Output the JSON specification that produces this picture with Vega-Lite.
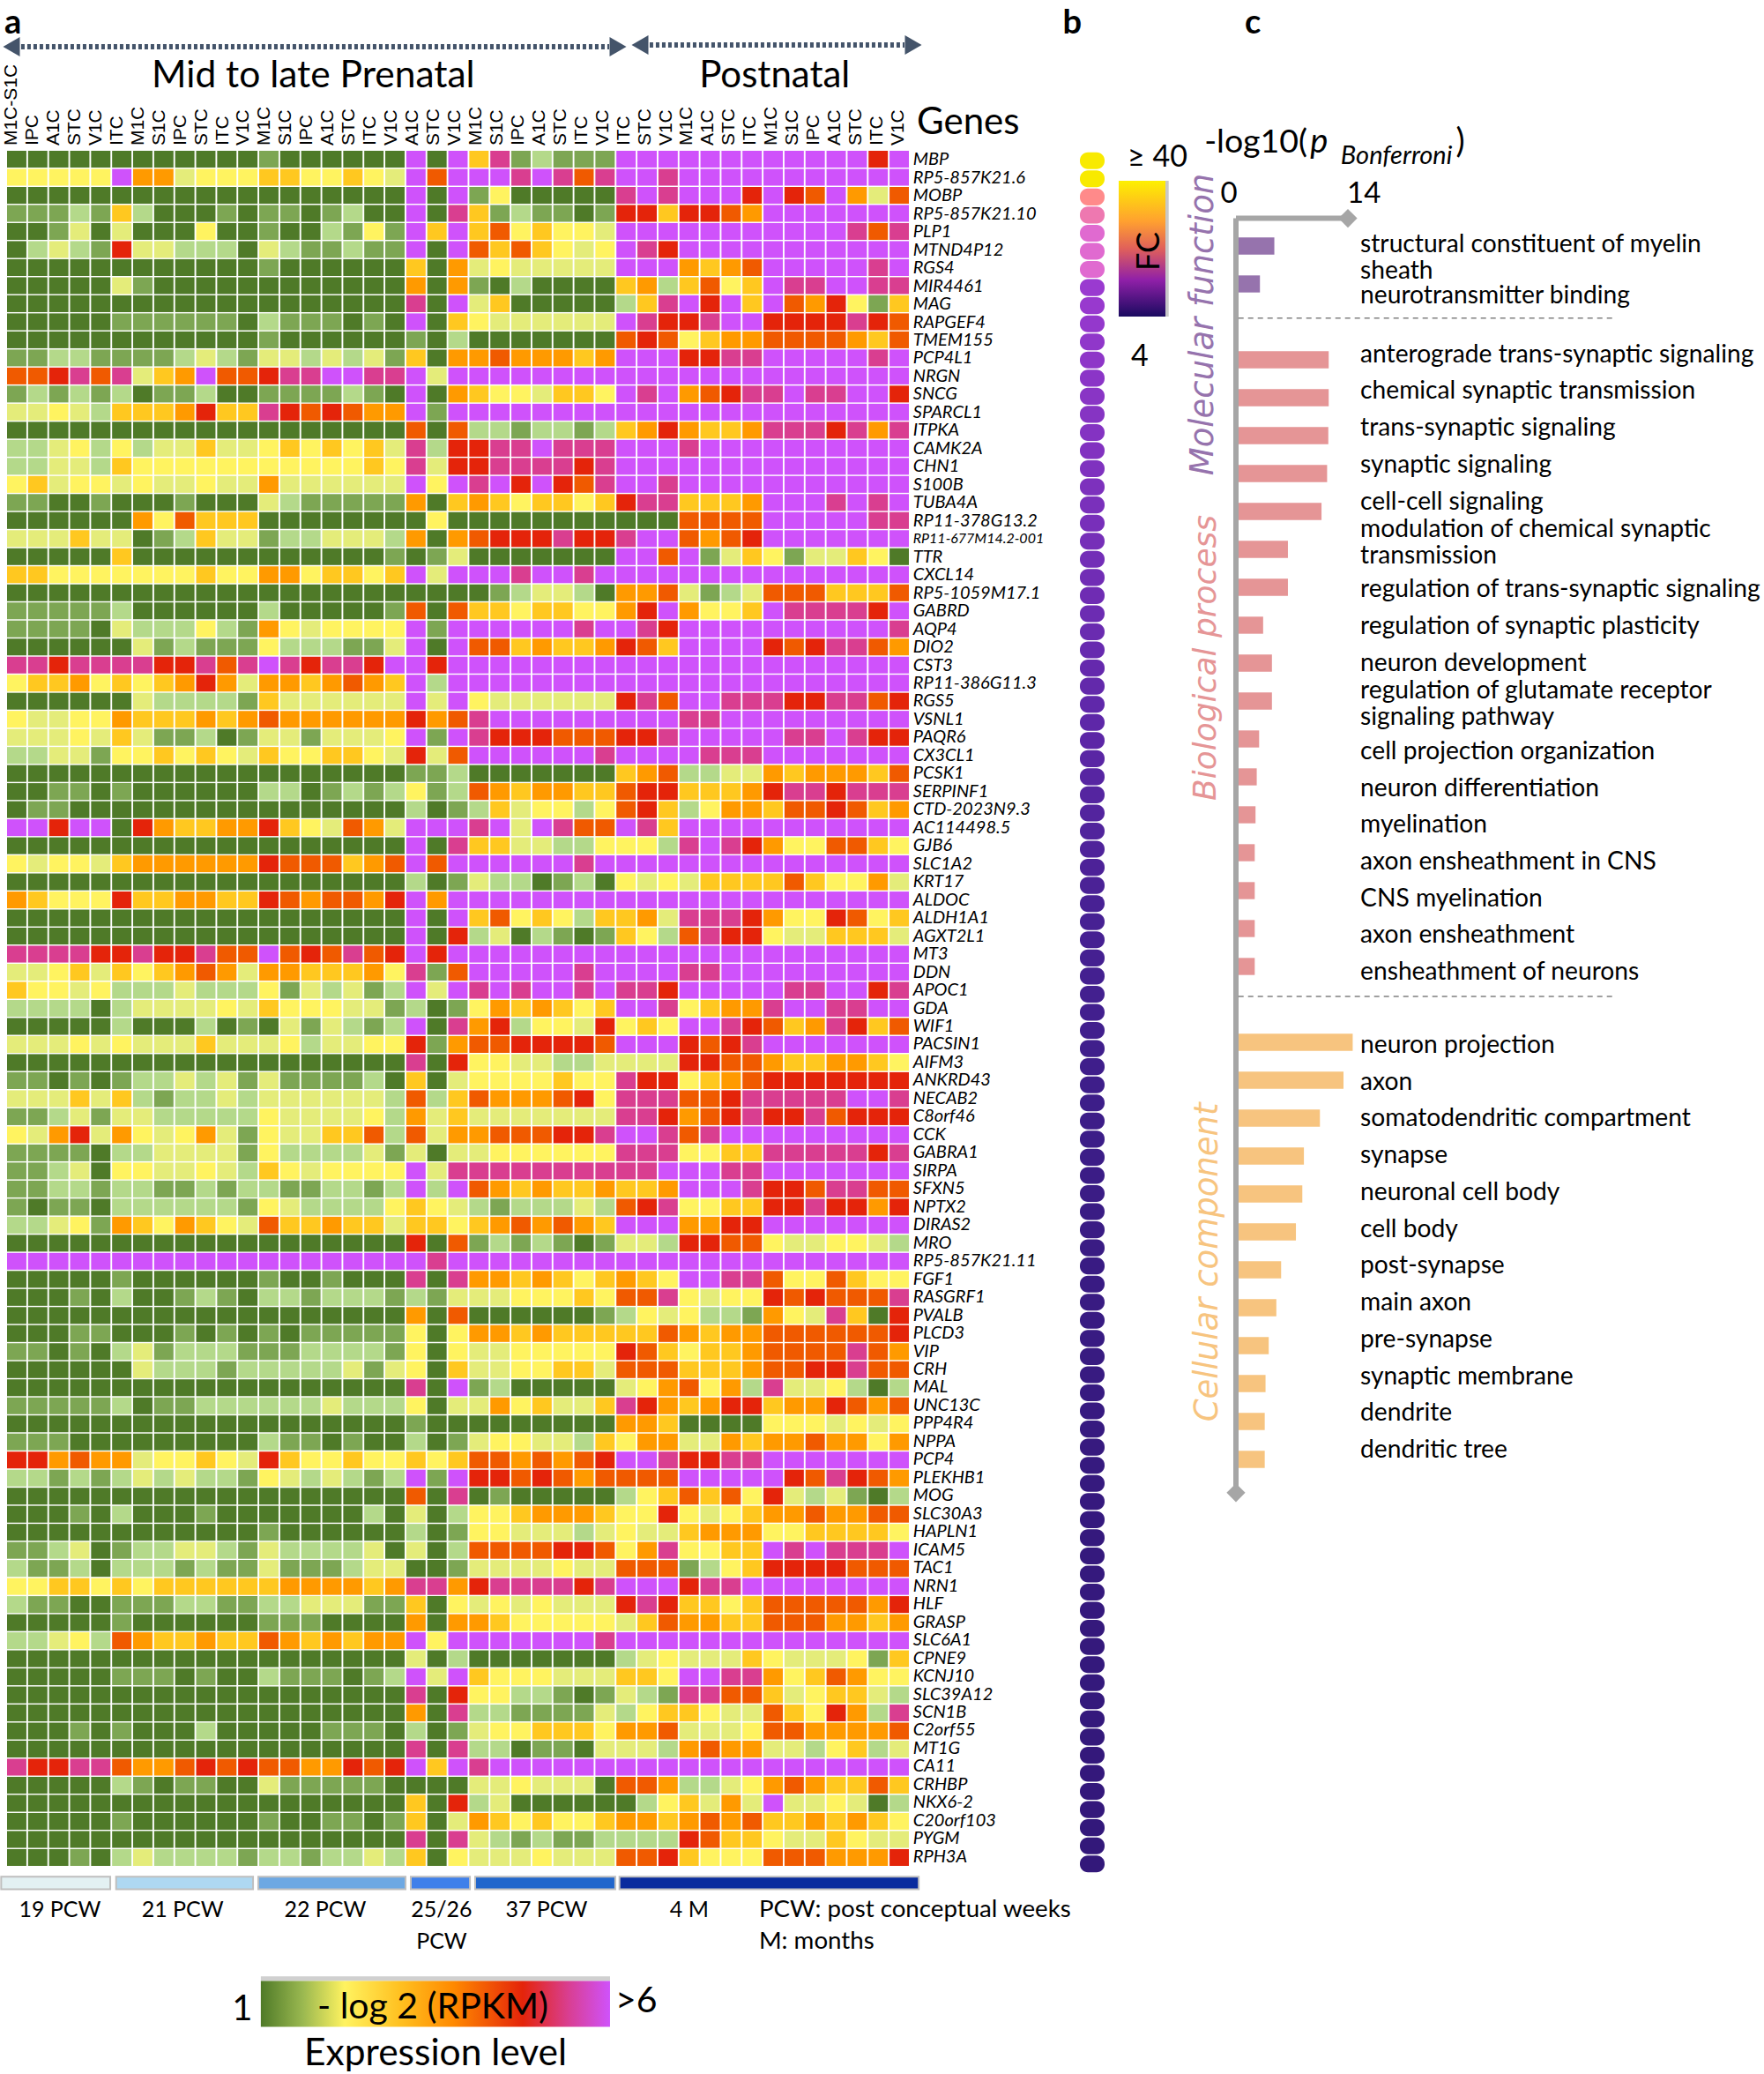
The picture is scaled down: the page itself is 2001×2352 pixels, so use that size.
{"$schema":"https://vega.github.io/schema/vega-lite/v6.json","width":2001,"height":2352,"padding":0,"autosize":{"type":"fit","contains":"padding"},"background":"#ffffff","config":{"view":{"stroke":null},"axis":{"disable":true},"legend":{"disable":true},"text":{"font":"Lato","fontSize":28.2,"color":"#000000","baseline":"middle"}},
"data":{"values":[{}]},
"datasets":{"genes":[
{"g":"MBP","fc":40,"v":[0,0,0,0,0,0,0,0,0,0,0,0,1,0,0,0,0,0,0,10,0,10,5,9,1,2,1,1,1,10,10,10,10,10,10,10,10,10,10,10,10,8,10]},
{"g":"RP5-857K21.6","fc":40,"v":[4,4,4,4,4,10,6,6,3,4,4,4,5,5,4,4,5,4,3,10,7,10,10,10,9,10,9,7,9,10,10,9,10,10,10,10,10,10,10,10,10,10,10]},
{"g":"MOBP","fc":24,"v":[0,0,0,0,0,0,0,0,0,0,0,0,0,0,0,0,0,0,0,10,0,10,1,4,0,0,0,0,0,9,10,9,10,10,10,8,10,8,7,10,6,3,7]},
{"g":"RP5-857K21.10","fc":21,"v":[1,1,1,2,1,5,2,0,0,0,1,0,1,1,0,1,2,0,0,10,0,9,5,1,2,1,1,0,1,8,8,5,8,8,7,6,10,10,10,10,10,10,10]},
{"g":"PLP1","fc":19,"v":[0,0,1,3,0,3,0,0,0,4,0,0,1,0,0,2,1,4,1,10,5,10,5,7,4,5,4,4,3,10,10,10,10,10,10,10,10,10,10,10,9,7,9]},
{"g":"MTND4P12","fc":19,"v":[0,2,3,2,1,8,3,3,2,2,2,0,3,2,1,1,2,1,1,10,0,10,7,5,7,5,4,3,4,10,9,8,10,10,10,10,10,10,10,10,10,10,10]},
{"g":"RGS4","fc":19,"v":[0,0,0,0,0,0,0,0,0,0,0,0,1,0,0,0,0,0,0,5,0,6,3,4,3,3,3,3,3,10,10,10,6,5,6,7,10,10,10,10,10,9,10]},
{"g":"MIR4461","fc":14,"v":[0,0,0,0,0,3,1,0,0,0,0,0,0,0,0,0,0,0,0,6,0,6,1,0,2,0,0,0,0,5,6,2,5,7,4,5,10,9,9,10,10,9,9]},
{"g":"MAG","fc":13.8,"v":[0,0,0,0,0,0,0,0,0,0,0,0,0,0,0,0,0,0,0,9,0,10,3,5,0,0,0,0,0,2,5,9,10,8,10,5,10,7,6,8,4,1,5]},
{"g":"RAPGEF4","fc":13.5,"v":[0,0,0,0,0,1,1,1,1,1,1,0,2,1,1,1,0,1,0,10,0,5,4,3,3,3,3,3,3,10,9,8,8,9,10,10,8,8,8,8,9,8,7]},
{"g":"TMEM155","fc":13.2,"v":[0,0,0,0,0,0,0,0,0,0,0,0,1,0,0,0,0,0,0,1,0,2,0,0,0,0,0,0,0,7,8,7,4,5,6,6,7,7,7,7,6,5,7]},
{"g":"PCP4L1","fc":13,"v":[1,1,2,2,1,1,1,1,2,3,2,1,3,3,2,3,2,3,1,5,0,6,6,7,6,6,6,5,6,10,10,10,8,8,9,9,10,10,10,10,10,9,10]},
{"g":"NRGN","fc":12.8,"v":[7,7,8,9,7,9,3,5,6,10,7,7,8,9,9,10,10,9,9,10,3,10,10,10,10,10,10,10,10,10,10,10,10,10,10,10,10,10,10,10,10,10,10]},
{"g":"SNCG","fc":12.6,"v":[1,2,1,2,1,2,0,1,1,2,0,0,1,1,1,1,2,1,0,10,0,6,5,4,4,3,5,5,4,10,9,10,6,7,8,9,9,10,9,9,10,10,8]},
{"g":"SPARCL1","fc":12.4,"v":[3,3,4,3,2,5,5,5,6,8,5,5,9,8,7,8,7,6,6,10,1,10,10,10,10,10,10,10,10,10,10,10,10,10,10,10,10,10,10,10,10,10,10]},
{"g":"ITPKA","fc":12.2,"v":[0,0,0,0,0,0,0,0,0,0,0,0,0,0,0,0,0,0,0,7,0,7,2,2,1,2,2,1,2,5,6,8,6,5,5,6,9,9,9,8,9,6,9]},
{"g":"CAMK2A","fc":12,"v":[2,2,3,4,2,4,2,3,3,5,3,3,4,5,4,5,4,5,3,9,2,8,8,9,9,10,9,9,9,10,10,10,9,10,10,10,10,10,10,10,10,10,10]},
{"g":"CHN1","fc":11.8,"v":[2,2,3,3,2,5,4,4,4,4,4,4,4,4,4,4,4,5,4,9,3,8,8,9,9,9,9,8,9,10,10,10,10,10,10,10,10,10,10,10,10,10,10]},
{"g":"S100B","fc":11.6,"v":[4,5,3,4,4,3,4,3,3,4,3,3,6,3,3,3,3,3,3,10,4,10,9,10,8,10,8,7,9,10,10,9,10,10,10,10,10,10,10,10,10,10,10]},
{"g":"TUBA4A","fc":11.4,"v":[1,1,0,0,1,0,0,0,1,0,0,0,3,2,1,1,1,1,1,6,0,5,6,5,4,5,5,4,5,8,9,9,5,5,5,6,10,10,10,9,10,9,10]},
{"g":"RP11-378G13.2","fc":11.2,"v":[0,0,0,0,0,0,6,4,7,5,5,5,0,0,0,0,0,0,0,0,4,0,0,0,0,0,0,0,0,0,0,0,7,7,7,7,10,10,10,10,10,9,9]},
{"g":"RP11-677M14.2-001","fc":11,"v":[3,3,3,5,3,3,0,1,2,5,3,3,1,2,2,3,3,3,2,6,0,6,7,8,8,8,9,8,8,9,10,10,7,6,7,8,10,10,10,10,10,10,10]},
{"g":"TTR","fc":10.8,"v":[0,0,0,0,0,5,0,0,0,0,0,0,0,0,0,0,0,0,1,0,1,3,0,0,0,0,0,0,0,10,10,7,10,1,3,5,4,1,3,3,5,4,0]},
{"g":"CXCL14","fc":10.6,"v":[5,5,4,4,4,4,4,4,4,5,4,4,6,6,4,5,5,4,5,10,3,10,10,10,9,10,10,9,10,10,10,10,10,10,10,10,10,10,10,10,10,10,10]},
{"g":"RP5-1059M17.1","fc":10.4,"v":[0,0,0,0,0,0,0,0,0,0,0,0,0,0,0,0,0,0,0,0,0,0,0,1,2,3,3,2,0,6,6,7,3,1,2,3,7,7,7,5,5,5,7]},
{"g":"GABRD","fc":10.2,"v":[1,1,1,1,1,2,0,0,0,0,0,0,2,0,0,0,0,0,1,7,0,7,5,5,4,5,5,4,4,6,8,10,6,4,4,5,10,9,9,9,9,8,10]},
{"g":"AQP4","fc":10,"v":[1,1,1,1,0,3,2,2,2,4,2,1,6,4,3,4,4,4,4,10,1,10,10,10,10,10,10,9,10,10,9,8,10,10,10,10,10,10,10,10,10,10,9]},
{"g":"DIO2","fc":9.8,"v":[0,0,0,0,0,0,3,1,2,1,1,1,4,2,2,2,1,1,3,10,0,10,7,7,5,6,5,5,6,8,7,5,10,10,10,10,8,7,8,9,9,7,6]},
{"g":"CST3","fc":9.6,"v":[9,9,8,9,9,9,9,8,8,9,7,9,10,9,8,9,9,8,10,10,8,10,10,10,10,10,10,10,10,10,10,10,10,10,10,10,10,10,10,10,10,10,10]},
{"g":"RP11-386G11.3","fc":9.4,"v":[4,5,5,6,4,5,4,5,6,8,6,3,6,6,5,6,7,6,5,10,2,10,10,10,10,10,10,10,10,10,10,10,10,10,10,10,10,10,10,10,10,10,10]},
{"g":"RGS5","fc":9.2,"v":[0,0,0,0,0,0,3,2,2,2,2,1,5,3,3,3,3,3,3,10,3,10,4,3,3,3,3,3,3,8,9,7,10,10,9,9,9,8,8,9,9,7,8]},
{"g":"VSNL1","fc":9,"v":[4,3,3,4,4,6,5,5,5,6,5,6,7,6,6,6,6,6,6,8,6,7,9,10,10,10,10,10,10,10,10,10,9,9,10,10,10,10,10,10,10,10,10]},
{"g":"PAQR6","fc":8.8,"v":[3,3,3,4,3,5,3,1,1,2,0,1,3,3,1,3,3,3,4,10,1,10,9,8,8,8,7,7,7,8,8,9,10,10,10,10,10,9,9,10,9,8,8]},
{"g":"CX3CL1","fc":8.6,"v":[2,2,3,3,1,4,4,5,4,5,4,3,5,4,4,5,5,4,3,8,3,7,10,10,10,10,10,10,9,10,10,10,10,9,9,9,10,10,10,10,10,10,10]},
{"g":"PCSK1","fc":8.4,"v":[0,0,0,0,0,0,0,0,0,0,0,0,0,0,0,0,0,0,0,1,1,2,0,0,0,0,0,0,0,5,6,7,2,2,3,3,6,5,6,6,6,5,7]},
{"g":"SERPINF1","fc":8.2,"v":[0,0,1,1,0,1,0,0,0,0,0,0,2,2,0,1,2,1,2,4,1,2,7,6,5,6,6,5,5,7,8,8,5,5,5,6,8,9,9,8,9,9,9]},
{"g":"CTD-2023N9.3","fc":8,"v":[0,1,1,0,0,0,0,0,0,0,0,0,0,0,0,0,0,0,0,2,0,1,2,5,3,4,4,2,4,7,8,5,2,4,6,6,5,7,7,8,7,5,6]},
{"g":"AC114498.5","fc":7.8,"v":[10,10,8,10,10,0,8,6,5,5,6,6,8,5,4,3,7,6,3,10,10,10,9,10,3,10,9,7,7,10,9,5,10,10,10,10,10,10,10,10,10,10,10]},
{"g":"GJB6","fc":7.6,"v":[0,0,0,0,0,0,0,0,0,0,0,0,0,0,0,0,0,0,0,10,0,9,5,5,3,3,2,2,4,4,4,2,9,10,9,8,6,4,4,7,7,5,4]},
{"g":"SLC1A2","fc":7.4,"v":[4,3,4,4,3,5,6,6,6,6,6,6,8,7,7,7,5,6,7,10,7,10,10,10,10,10,10,9,10,10,10,10,10,10,10,10,10,10,10,10,10,10,10]},
{"g":"KRT17","fc":7.2,"v":[0,0,0,0,0,0,0,0,0,0,0,0,0,0,0,0,0,0,0,2,0,1,3,2,2,0,1,2,0,4,3,4,3,5,5,5,5,7,5,4,4,6,3]},
{"g":"ALDOC","fc":7,"v":[6,5,4,4,4,8,5,5,6,6,5,5,8,7,6,7,7,6,8,10,6,10,10,10,10,10,10,10,10,10,10,10,10,10,10,10,10,10,10,10,10,10,10]},
{"g":"ALDH1A1","fc":6.9,"v":[0,0,0,0,0,0,0,0,0,0,0,0,0,0,0,0,0,0,0,10,0,10,5,7,4,5,4,2,5,5,6,3,9,9,9,8,6,4,4,8,7,4,5]},
{"g":"AGXT2L1","fc":6.8,"v":[0,0,0,0,0,0,0,0,0,0,0,0,0,0,0,0,0,0,0,10,0,8,2,3,0,2,1,0,1,5,4,2,7,9,8,8,4,3,3,5,5,5,3]},
{"g":"MT3","fc":6.7,"v":[9,9,9,9,8,8,9,8,8,9,7,7,10,7,8,7,9,7,8,10,8,10,10,10,10,10,10,10,10,10,10,10,10,10,10,10,10,10,10,10,10,10,10]},
{"g":"DDN","fc":6.6,"v":[3,3,4,5,3,5,4,5,6,7,6,3,6,6,5,5,5,6,4,9,1,7,10,10,10,10,10,9,10,10,10,10,9,9,10,10,10,10,10,10,10,10,10]},
{"g":"APOC1","fc":6.5,"v":[5,4,4,3,4,2,2,2,3,2,2,2,4,1,3,2,3,1,2,10,3,10,9,10,9,10,10,9,10,9,9,8,10,10,10,10,10,9,9,10,10,8,9]},
{"g":"GDA","fc":6.4,"v":[2,2,2,2,0,2,3,3,3,3,4,3,5,4,4,4,3,3,1,2,0,1,4,6,5,6,5,4,5,10,10,9,4,5,6,6,9,10,10,9,9,10,10]},
{"g":"WIF1","fc":6.3,"v":[0,0,0,0,0,2,0,0,0,2,0,1,0,3,1,3,2,1,2,10,0,9,6,8,2,4,4,3,8,4,5,4,10,10,9,8,7,5,6,9,8,5,7]},
{"g":"PACSIN1","fc":6.2,"v":[3,3,3,4,3,4,3,3,3,5,3,3,3,4,2,3,3,4,4,8,1,6,7,7,8,8,8,8,7,10,10,10,8,7,8,9,10,10,10,10,10,10,10]},
{"g":"AIFM3","fc":6.1,"v":[0,0,0,0,0,0,0,0,0,0,0,0,0,0,0,0,0,0,0,9,0,8,4,4,3,3,2,2,3,3,3,3,8,8,7,7,6,5,5,6,6,5,4]},
{"g":"ANKRD43","fc":6,"v":[1,1,0,1,0,1,2,2,3,2,3,1,3,1,1,1,1,2,0,5,0,3,4,4,4,4,5,4,4,9,8,8,4,5,6,7,8,8,8,8,8,8,8]},
{"g":"NECAB2","fc":5.9,"v":[3,3,3,5,3,5,2,1,2,2,3,2,3,3,3,3,3,3,2,7,2,5,7,6,6,6,7,8,4,9,9,9,7,7,8,9,9,9,9,9,10,10,9]},
{"g":"C8orf46","fc":5.8,"v":[1,1,2,3,1,3,3,2,2,2,2,2,4,3,3,3,3,4,2,6,3,5,3,3,3,3,3,3,3,9,9,8,6,7,8,9,8,8,9,7,8,8,8]},
{"g":"CCK","fc":5.7,"v":[4,3,6,8,3,6,4,3,4,6,3,1,4,3,3,5,5,7,2,7,3,6,6,7,7,7,8,8,9,10,10,9,7,9,10,10,10,10,10,10,10,10,10]},
{"g":"GABRA1","fc":5.6,"v":[1,1,1,1,0,2,2,3,3,3,3,1,4,2,2,2,2,3,1,3,0,3,3,4,4,4,4,4,4,9,9,9,4,4,5,5,9,9,9,9,9,8,9]},
{"g":"SIRPA","fc":5.5,"v":[1,1,2,3,0,4,4,3,3,4,3,2,5,4,3,4,4,4,4,10,3,9,9,9,9,9,9,9,9,9,9,10,10,10,9,9,10,10,10,10,10,10,10]},
{"g":"SFXN5","fc":5.4,"v":[1,1,2,2,1,2,2,1,1,2,1,2,2,1,1,2,2,1,2,10,2,10,7,6,5,6,5,5,6,5,5,6,10,10,10,9,8,8,7,9,9,7,7]},
{"g":"NPTX2","fc":5.3,"v":[1,0,1,1,0,2,2,2,2,2,2,1,4,3,2,2,2,2,4,5,4,3,2,1,2,2,2,3,2,7,8,9,4,4,5,5,8,8,9,8,8,6,8]},
{"g":"DIRAS2","fc":5.25,"v":[2,2,3,4,1,6,5,4,6,5,4,3,7,5,5,6,5,5,3,5,5,4,5,6,7,6,7,6,5,10,10,10,6,6,8,8,10,10,10,10,10,10,10]},
{"g":"MRO","fc":5.2,"v":[0,0,0,0,0,0,0,0,0,0,0,0,0,0,0,0,0,0,0,8,0,7,1,2,1,2,1,0,1,3,3,2,8,8,7,7,4,3,3,4,4,3,2]},
{"g":"RP5-857K21.11","fc":5.15,"v":[10,10,10,10,10,10,10,10,10,10,10,10,10,10,10,10,10,10,10,10,9,10,10,10,10,10,10,10,10,10,10,10,10,10,10,10,10,10,10,10,10,10,10]},
{"g":"FGF1","fc":5.1,"v":[0,0,0,0,0,1,0,0,0,0,0,0,1,0,0,1,0,0,0,9,0,9,6,6,5,6,5,4,5,6,5,4,10,10,9,9,7,4,4,7,5,4,4]},
{"g":"RASGRF1","fc":5.05,"v":[0,0,0,1,0,2,0,0,1,2,1,0,2,2,1,2,2,2,1,2,1,3,3,3,4,4,4,5,4,7,7,9,4,3,4,4,8,7,8,7,7,7,9]},
{"g":"PVALB","fc":5,"v":[0,0,0,0,0,0,0,0,0,0,0,0,0,0,0,0,0,0,0,6,0,7,0,0,0,0,0,0,1,2,4,3,4,2,2,1,6,4,3,9,5,0,8]},
{"g":"PLCD3","fc":4.95,"v":[0,0,0,1,1,0,0,0,1,0,1,0,1,0,1,1,1,1,1,4,0,4,6,6,5,6,5,5,5,5,5,7,6,5,6,6,7,7,7,7,7,7,8]},
{"g":"VIP","fc":4.9,"v":[1,1,0,1,0,2,3,1,2,2,2,1,1,1,2,2,2,2,1,4,0,4,3,3,4,4,4,4,4,8,7,5,4,5,5,6,7,7,7,7,9,7,6]},
{"g":"CRH","fc":4.85,"v":[0,0,0,0,0,0,3,2,2,2,1,2,2,2,2,2,3,1,3,4,0,5,3,3,4,4,5,5,3,7,7,7,5,5,5,6,7,7,8,8,9,7,7]},
{"g":"MAL","fc":4.8,"v":[0,0,0,0,0,0,0,0,0,0,0,0,0,0,0,0,0,0,0,9,0,10,1,2,0,0,0,0,0,3,4,6,7,4,6,2,9,3,3,4,2,0,2]},
{"g":"UNC13C","fc":4.75,"v":[1,1,1,1,1,2,0,1,1,2,2,2,2,2,2,3,2,2,2,4,0,3,3,6,4,5,3,3,5,9,8,6,5,6,8,8,5,6,6,8,7,6,7]},
{"g":"PPP4R4","fc":4.7,"v":[0,0,0,0,0,0,0,0,0,0,0,0,0,0,0,0,0,0,0,1,0,0,0,0,0,0,0,0,0,6,6,5,0,0,0,0,4,4,4,3,4,3,4]},
{"g":"NPPA","fc":4.65,"v":[1,1,1,0,0,0,0,0,0,0,0,0,2,1,1,0,1,0,0,2,0,1,3,4,4,3,3,2,5,4,6,6,3,3,6,5,6,6,7,6,6,4,6]},
{"g":"PCP4","fc":4.6,"v":[8,8,6,7,6,6,3,4,4,5,4,3,8,5,4,4,5,4,4,5,4,5,7,7,6,7,6,7,8,10,10,9,8,8,9,9,10,10,10,10,10,10,10]},
{"g":"PLEKHB1","fc":4.55,"v":[2,2,1,2,1,2,3,2,3,2,2,1,4,3,2,3,2,1,2,10,1,10,8,8,7,8,7,6,7,7,7,7,10,10,10,10,10,8,7,9,8,7,6]},
{"g":"MOG","fc":4.5,"v":[0,0,0,0,0,0,0,0,0,0,0,0,0,0,0,0,0,0,0,7,0,9,0,1,0,0,0,0,0,2,4,5,7,5,7,4,8,3,2,3,1,0,2]},
{"g":"SLC30A3","fc":4.45,"v":[0,0,0,1,0,2,0,0,0,1,0,0,0,0,0,0,0,2,0,3,0,2,4,4,5,6,6,6,5,4,4,8,4,3,4,5,6,6,7,6,6,7,7]},
{"g":"HAPLN1","fc":4.4,"v":[0,0,0,0,0,0,0,0,0,0,0,0,1,0,0,0,0,0,0,2,0,1,4,4,3,3,3,2,3,4,3,3,5,6,6,6,4,4,5,5,5,5,4]},
{"g":"ICAM5","fc":4.38,"v":[1,1,2,3,0,1,2,2,3,3,2,1,3,2,2,2,2,3,0,3,0,2,7,7,7,7,8,8,7,4,6,9,4,4,5,5,10,9,10,9,9,9,10]},
{"g":"TAC1","fc":4.36,"v":[2,1,1,2,0,2,2,2,1,2,1,1,3,1,1,1,2,3,3,0,0,1,3,3,3,3,4,3,3,7,7,7,1,2,4,5,8,8,8,8,7,7,7]},
{"g":"NRN1","fc":4.34,"v":[4,4,5,5,4,5,4,5,5,5,5,5,5,6,6,6,6,5,6,9,9,6,8,9,9,9,9,8,9,10,10,10,8,9,9,10,10,10,10,10,10,10,10]},
{"g":"HLF","fc":4.32,"v":[2,1,1,0,0,1,1,1,2,2,1,1,2,2,3,3,3,1,1,5,0,4,3,4,3,4,3,3,3,8,9,8,5,5,4,5,7,7,7,7,7,6,8]},
{"g":"GRASP","fc":4.3,"v":[0,0,0,0,0,1,0,0,0,0,0,0,1,1,1,0,0,0,0,6,0,6,6,5,4,4,4,4,4,3,5,7,6,6,5,5,7,7,7,6,6,5,6]},
{"g":"SLC6A1","fc":4.28,"v":[2,2,3,4,2,7,6,5,5,6,5,5,7,6,5,6,5,6,6,10,4,10,10,10,10,10,10,10,9,10,10,10,10,10,10,10,10,10,10,10,10,10,10]},
{"g":"CPNE9","fc":4.26,"v":[0,0,0,0,0,0,0,0,0,0,0,0,0,0,0,0,0,0,0,3,0,2,0,0,0,0,0,0,0,2,3,4,3,3,3,5,4,3,3,3,4,1,5]},
{"g":"KCNJ10","fc":4.24,"v":[0,0,0,0,0,1,1,1,0,1,0,0,2,1,1,1,0,1,2,10,3,10,5,4,4,4,3,3,3,5,5,4,10,10,9,9,6,4,5,7,6,4,4]},
{"g":"SLC39A12","fc":4.22,"v":[0,0,0,0,0,0,0,0,0,0,0,0,0,0,0,0,0,0,0,9,0,8,4,4,2,2,1,0,1,3,2,1,9,9,7,7,5,3,4,5,5,3,2]},
{"g":"SCN1B","fc":4.2,"v":[0,0,0,0,0,0,0,0,0,0,0,0,0,0,0,0,0,0,0,6,0,9,2,2,1,1,1,1,3,2,4,5,5,4,3,3,7,5,4,8,6,2,9]},
{"g":"C2orf55","fc":4.18,"v":[0,0,0,1,0,1,0,0,0,2,0,0,0,0,0,1,1,1,0,2,0,1,3,4,4,5,5,5,4,6,6,7,3,3,3,4,7,7,6,6,6,6,7]},
{"g":"MT1G","fc":4.16,"v":[0,0,0,0,0,0,0,0,0,0,0,0,0,0,0,0,0,0,0,9,0,9,2,2,0,1,1,0,3,3,3,2,6,7,6,6,3,3,2,4,5,2,3]},
{"g":"CA11","fc":4.14,"v":[9,8,8,9,9,7,6,6,7,8,7,8,7,7,6,6,8,7,8,10,5,10,9,10,10,10,10,10,10,10,10,10,10,10,10,10,10,10,10,10,10,10,10]},
{"g":"CRHBP","fc":4.12,"v":[0,0,0,0,0,2,1,0,1,1,0,0,3,1,1,1,1,1,0,0,0,0,3,3,4,3,3,3,0,7,7,6,2,2,3,4,6,7,6,5,5,7,5]},
{"g":"NKX6-2","fc":4.1,"v":[0,0,0,0,0,0,0,0,0,0,0,0,0,0,0,0,0,0,0,5,0,8,2,3,0,0,0,0,0,0,2,4,5,3,6,3,10,3,3,4,3,0,2]},
{"g":"C20orf103","fc":4.08,"v":[0,0,0,0,0,1,0,0,0,0,0,0,1,0,0,1,1,0,1,5,0,3,6,5,4,5,4,4,5,6,6,5,6,7,6,7,5,5,6,5,6,5,4]},
{"g":"PYGM","fc":4.06,"v":[0,0,0,0,0,0,0,0,0,0,0,0,0,0,0,0,0,0,0,9,0,9,3,2,1,2,1,1,2,2,2,2,8,7,5,5,4,3,3,5,4,3,3]},
{"g":"RPH3A","fc":4.04,"v":[0,0,0,1,0,2,3,2,2,2,2,1,2,2,1,2,2,3,2,5,0,4,3,3,3,4,3,3,3,7,7,8,5,4,4,4,7,7,7,6,6,6,8]}
],
"cols":[{"col":1,"t":"M1C-S1C"},{"col":2,"t":"IPC"},{"col":3,"t":"A1C"},{"col":4,"t":"STC"},{"col":5,"t":"V1C"},{"col":6,"t":"ITC"},{"col":7,"t":"M1C"},{"col":8,"t":"S1C"},{"col":9,"t":"IPC"},{"col":10,"t":"STC"},{"col":11,"t":"ITC"},{"col":12,"t":"V1C"},{"col":13,"t":"M1C"},{"col":14,"t":"S1C"},{"col":15,"t":"IPC"},{"col":16,"t":"A1C"},{"col":17,"t":"STC"},{"col":18,"t":"ITC"},{"col":19,"t":"V1C"},{"col":20,"t":"A1C"},{"col":21,"t":"STC"},{"col":22,"t":"V1C"},{"col":23,"t":"M1C"},{"col":24,"t":"S1C"},{"col":25,"t":"IPC"},{"col":26,"t":"A1C"},{"col":27,"t":"STC"},{"col":28,"t":"ITC"},{"col":29,"t":"V1C"},{"col":30,"t":"ITC"},{"col":31,"t":"STC"},{"col":32,"t":"V1C"},{"col":33,"t":"M1C"},{"col":34,"t":"A1C"},{"col":35,"t":"STC"},{"col":36,"t":"ITC"},{"col":37,"t":"M1C"},{"col":38,"t":"S1C"},{"col":39,"t":"IPC"},{"col":40,"t":"A1C"},{"col":41,"t":"STC"},{"col":42,"t":"ITC"},{"col":43,"t":"V1C"}],
"stages":[{"stage":"19 PCW","first":-0.28,"last":4.92},{"stage":"21 PCW","first":5.2,"last":11.73},{"stage":"22 PCW","first":11.98,"last":19.0},{"stage":"25/26 PCW","first":19.25,"last":22.07},{"stage":"37 PCW","first":22.32,"last":29.0},{"stage":"4 M","first":29.2,"last":43.47}],
"terms":[
{"t":"structural constituent of myelin\nsheath","go":"Molecular function","p":4.8,"block":1},
{"t":"neurotransmitter binding","go":"Molecular function","p":3.0,"block":1},
{"t":"anterograde trans-synaptic signaling","go":"Biological process","p":11.6,"block":2},
{"t":"chemical synaptic transmission","go":"Biological process","p":11.6,"block":2},
{"t":"trans-synaptic signaling","go":"Biological process","p":11.55,"block":2},
{"t":"synaptic signaling","go":"Biological process","p":11.4,"block":2},
{"t":"cell-cell signaling","go":"Biological process","p":10.7,"block":2},
{"t":"modulation of chemical synaptic\ntransmission","go":"Biological process","p":6.5,"block":3},
{"t":"regulation of trans-synaptic signaling","go":"Biological process","p":6.5,"block":4},
{"t":"regulation of synaptic plasticity","go":"Biological process","p":3.4,"block":4},
{"t":"neuron development","go":"Biological process","p":4.5,"block":4},
{"t":"regulation of glutamate receptor\nsignaling pathway","go":"Biological process","p":4.5,"block":5},
{"t":"cell projection organization","go":"Biological process","p":2.9,"block":6},
{"t":"neuron differentiation","go":"Biological process","p":2.6,"block":6},
{"t":"myelination","go":"Biological process","p":2.45,"block":6},
{"t":"axon ensheathment in CNS","go":"Biological process","p":2.35,"block":6},
{"t":"CNS myelination","go":"Biological process","p":2.35,"block":6},
{"t":"axon ensheathment","go":"Biological process","p":2.35,"block":6},
{"t":"ensheathment of neurons","go":"Biological process","p":2.35,"block":6},
{"t":"neuron projection","go":"Cellular component","p":14.6,"block":7},
{"t":"axon","go":"Cellular component","p":13.45,"block":7},
{"t":"somatodendritic compartment","go":"Cellular component","p":10.5,"block":7},
{"t":"synapse","go":"Cellular component","p":8.5,"block":7},
{"t":"neuronal cell body","go":"Cellular component","p":8.3,"block":7},
{"t":"cell body","go":"Cellular component","p":7.5,"block":7},
{"t":"post-synapse","go":"Cellular component","p":5.65,"block":7},
{"t":"main axon","go":"Cellular component","p":5.05,"block":7},
{"t":"pre-synapse","go":"Cellular component","p":4.1,"block":7},
{"t":"synaptic membrane","go":"Cellular component","p":3.7,"block":7},
{"t":"dendrite","go":"Cellular component","p":3.6,"block":7},
{"t":"dendritic tree","go":"Cellular component","p":3.6,"block":7}
]},
"resolve":{"scale":{"x":"independent","y":"independent","color":"independent"}},
"layer":[
{"data":{"name":"genes"},"transform":[{"flatten":["v"]},{"window":[{"op":"row_number","as":"col"}],"groupby":["g"]}],"mark":{"type":"rect"},"encoding":{"x":{"field":"col","type":"ordinal","scale":{"range":[8,1031],"paddingInner":0.08,"paddingOuter":0}},"y":{"field":"g","type":"nominal","sort":null,"scale":{"range":[171,2116],"paddingInner":0.07,"paddingOuter":0}},"color":{"field":"v","type":"quantitative","scale":{"domain":[0,1,2,3,4,5,6,7,8,9,10],"range":["#4f7a28","#7da653","#b4d98a","#e4ec7a","#fff360","#ffc820","#ff9a00","#f05a00","#e4240a","#d93e90","#cf52fb"]}}}},
{"data":{"name":"cols"},"mark":{"type":"text","font":"Liberation Sans","fontSize":21,"angle":270,"align":"left"},"encoding":{"x":{"field":"col","type":"ordinal","scale":{"range":[1,1031],"paddingInner":0,"paddingOuter":0}},"y":{"datum":-0.29,"scale":{"domain":[0,95],"range":[171,2116],"nice":false,"zero":false}},"text":{"field":"t"}}},
{"data":{"name":"genes"},"mark":{"type":"text","font":"Lato","fontStyle":"italic","align":"left"},"encoding":{"x":{"datum":43.2,"scale":{"domain":[0,43],"range":[8,1031],"nice":false,"zero":false}},"y":{"field":"g","type":"nominal","sort":null,"scale":{"range":[171,2116],"paddingInner":0.07,"paddingOuter":0}},"text":{"field":"g"},"size":{"condition":{"test":"datum.g=='RP11-677M14.2-001'","value":16},"value":20}}},
{"layer":[
{"mark":{"type":"text","text":"a","fontSize":38,"fontWeight":"bold","align":"left"},"encoding":{"x":{"datum":-0.13,"scale":{"domain":[0,43],"range":[8,1031],"nice":false,"zero":false}},"y":{"datum":-7.05,"scale":{"domain":[0,95],"range":[171,2116],"nice":false,"zero":false}}}},
{"mark":{"type":"rule","color":"#44546a","strokeWidth":6,"strokeDash":[4,3]},"encoding":{"x":{"datum":0.67},"x2":{"datum":28.71},"y":{"datum":-5.76}}},
{"mark":{"type":"rule","color":"#44546a","strokeWidth":6,"strokeDash":[4,3]},"encoding":{"x":{"datum":30.64},"x2":{"datum":42.79},"y":{"datum":-5.86}}},
{"mark":{"type":"point","shape":"triangle-left","filled":true,"opacity":1,"size":484,"color":"#44546a"},"encoding":{"x":{"datum":0.21},"y":{"datum":-5.76}}},
{"mark":{"type":"point","shape":"triangle-right","filled":true,"opacity":1,"size":484,"color":"#44546a"},"encoding":{"x":{"datum":29.13},"y":{"datum":-5.76}}},
{"mark":{"type":"point","shape":"triangle-left","filled":true,"opacity":1,"size":484,"color":"#44546a"},"encoding":{"x":{"datum":30.18},"y":{"datum":-5.86}}},
{"mark":{"type":"point","shape":"triangle-right","filled":true,"opacity":1,"size":484,"color":"#44546a"},"encoding":{"x":{"datum":43.21},"y":{"datum":-5.86}}},
{"mark":{"type":"text","text":"Mid to late Prenatal","fontSize":42.5},"encoding":{"x":{"datum":14.6},"y":{"datum":-4.15}}},
{"mark":{"type":"text","text":"Postnatal","fontSize":42},"encoding":{"x":{"datum":36.6},"y":{"datum":-4.15}}},
{"mark":{"type":"text","text":"Genes","fontSize":42,"align":"left"},"encoding":{"x":{"datum":43.38},"y":{"datum":-1.55}}},
{"data":{"name":"stages"},"mark":{"type":"rect","stroke":"#bfbfbf","strokeWidth":2},"encoding":{"x":{"field":"first","type":"quantitative"},"x2":{"field":"last"},"y":{"datum":95.6},"y2":{"datum":96.29},"color":{"field":"stage","type":"nominal","scale":{"domain":["19 PCW","21 PCW","22 PCW","25/26 PCW","37 PCW","4 M"],"range":["#e3f1f3","#aed8f2","#6da8e3","#3f80ea","#2166cc","#0a2c9e"]}}}},
{"mark":{"type":"text","text":"19 PCW","fontSize":25},"encoding":{"x":{"datum":2.52},"y":{"datum":97.45}}},
{"mark":{"type":"text","text":"21 PCW","fontSize":25},"encoding":{"x":{"datum":8.37},"y":{"datum":97.45}}},
{"mark":{"type":"text","text":"22 PCW","fontSize":25},"encoding":{"x":{"datum":15.17},"y":{"datum":97.45}}},
{"mark":{"type":"text","text":"25/26","fontSize":25},"encoding":{"x":{"datum":20.72},"y":{"datum":97.45}}},
{"mark":{"type":"text","text":"PCW","fontSize":25},"encoding":{"x":{"datum":20.72},"y":{"datum":99.22}}},
{"mark":{"type":"text","text":"37 PCW","fontSize":25},"encoding":{"x":{"datum":25.72},"y":{"datum":97.45}}},
{"mark":{"type":"text","text":"4 M","fontSize":25},"encoding":{"x":{"datum":32.53},"y":{"datum":97.45}}},
{"mark":{"type":"text","text":"PCW: post conceptual weeks","fontSize":27.7,"align":"left"},"encoding":{"x":{"datum":35.85},"y":{"datum":97.45}}},
{"mark":{"type":"text","text":"M: months","fontSize":27.7,"align":"left"},"encoding":{"x":{"datum":35.85},"y":{"datum":99.22}}},
{"mark":{"type":"rect","fill":"#d0d0d0"},"encoding":{"x":{"datum":12.1},"x2":{"datum":28.75},"y":{"datum":101.12},"y2":{"datum":101.37}}},
{"mark":{"type":"rect","fill":{"gradient":"linear","x1":0,"y1":0,"x2":1,"y2":0,"stops":[{"offset":0,"color":"#4f7a28"},{"offset":0.12,"color":"#9ab850"},{"offset":0.24,"color":"#fff360"},{"offset":0.4,"color":"#ffc020"},{"offset":0.55,"color":"#ff8a00"},{"offset":0.75,"color":"#e4240a"},{"offset":0.88,"color":"#d93e90"},{"offset":1,"color":"#cf52fb"}]}},"encoding":{"x":{"datum":12.1},"x2":{"datum":28.75},"y":{"datum":101.37},"y2":{"datum":103.91}}},
{"mark":{"type":"text","text":"1","fontSize":40},"encoding":{"x":{"datum":11.22},"y":{"datum":102.95}}},
{"mark":{"type":"text","text":">6","fontSize":41,"align":"left"},"encoding":{"x":{"datum":29.0},"y":{"datum":102.5}}},
{"mark":{"type":"text","text":"- log 2 (RPKM)","fontSize":41},"encoding":{"x":{"datum":20.3},"y":{"datum":102.85}}},
{"mark":{"type":"text","text":"Expression level","fontSize":42.5},"encoding":{"x":{"datum":20.43},"y":{"datum":105.42}}}
]},
{"data":{"name":"genes"},"mark":{"type":"rect","cornerRadius":9},"encoding":{"x":{"datum":"FC","type":"nominal","scale":{"range":[1225,1253],"paddingInner":0,"paddingOuter":0}},"y":{"field":"g","type":"nominal","sort":null,"scale":{"range":[172.7,2123.3],"paddingInner":0.07,"paddingOuter":0}},"color":{"field":"fc","type":"quantitative","scale":{"domain":[4,6,9,14,19,21,24,40],"range":["#33187a","#3e1e8a","#5e27a8","#9a3ad0","#e06ad0","#ee78b0","#ff8a8a","#f8ea00"]}}}},
{"layer":[
{"mark":{"type":"rect","fill":{"gradient":"linear","x1":0,"y1":0,"x2":0,"y2":1,"stops":[{"offset":0,"color":"#fdf000"},{"offset":0.3,"color":"#ffa030"},{"offset":0.5,"color":"#e0605a"},{"offset":0.73,"color":"#9020a8"},{"offset":1,"color":"#1a0a60"}]}},"encoding":{"x":{"datum":0,"scale":{"domain":[0,1],"range":[1269,1322],"nice":false,"zero":false}},"x2":{"datum":1},"y":{"datum":4,"scale":{"domain":[4,40],"range":[359,205],"nice":false,"zero":false}},"y2":{"datum":40}}},
{"mark":{"type":"rect","fill":"#c8c8c8"},"encoding":{"x":{"datum":1},"x2":{"datum":1.07},"y":{"datum":4},"y2":{"datum":40}}},
{"mark":{"type":"text","text":"≥ 40","fontSize":34,"align":"left"},"encoding":{"x":{"datum":0.19},"y":{"datum":46.1}}},
{"mark":{"type":"text","text":"FC","fontSize":36,"angle":270},"encoding":{"x":{"datum":0.66},"y":{"datum":21.3}}},
{"mark":{"type":"text","text":"4","fontSize":34},"encoding":{"x":{"datum":0.45},"y":{"datum":-6.75}}},
{"mark":{"type":"text","text":"b","fontSize":38,"fontWeight":"bold","align":"left"},"encoding":{"x":{"datum":-1.2},"y":{"datum":81.6}}}
]},
{"data":{"name":"terms"},"mark":{"type":"bar"},"encoding":{"x":{"field":"p","type":"quantitative","scale":{"domain":[0,14],"range":[1402,1529],"nice":false,"zero":false}},"y":{"field":"t","type":"nominal","scale":{"domain":["structural constituent of myelin\nsheath","neurotransmitter binding","gap1","anterograde trans-synaptic signaling","chemical synaptic transmission","trans-synaptic signaling","synaptic signaling","cell-cell signaling","modulation of chemical synaptic\ntransmission","regulation of trans-synaptic signaling","regulation of synaptic plasticity","neuron development","regulation of glutamate receptor\nsignaling pathway","cell projection organization","neuron differentiation","myelination","axon ensheathment in CNS","CNS myelination","axon ensheathment","ensheathment of neurons","gap2","neuron projection","axon","somatodendritic compartment","synapse","neuronal cell body","cell body","post-synapse","main axon","pre-synapse","synaptic membrane","dendrite","dendritic tree"],"range":[257.5,1676.5],"paddingInner":0.55,"paddingOuter":0.275}},"color":{"field":"go","type":"nominal","scale":{"domain":["Molecular function","Biological process","Cellular component"],"range":["#9673ad","#e59596","#f7c47f"]}}}},
{"layer":[
{"mark":{"type":"rule","color":"#a6a6a6","strokeWidth":6},"encoding":{"x":{"datum":0,"scale":{"domain":[0,14],"range":[1402,1529],"nice":false,"zero":false}},"y":{"datum":-0.23,"scale":{"domain":[0,33],"range":[257.5,1676.5],"nice":false,"zero":false}},"y2":{"datum":33.38}}},
{"mark":{"type":"rule","color":"#a6a6a6","strokeWidth":6},"encoding":{"x":{"datum":0},"x2":{"datum":14},"y":{"datum":-0.23}}},
{"mark":{"type":"point","shape":"diamond","filled":true,"opacity":1,"size":450,"color":"#a6a6a6"},"encoding":{"x":{"datum":14},"y":{"datum":-0.23}}},
{"mark":{"type":"point","shape":"diamond","filled":true,"opacity":1,"size":450,"color":"#a6a6a6"},"encoding":{"x":{"datum":0},"y":{"datum":33.38}}},
{"mark":{"type":"rule","color":"#808080","strokeWidth":1.5,"strokeDash":[6,5]},"encoding":{"x":{"datum":0.3},"x2":{"datum":47.2},"y":{"datum":2.4}}},
{"mark":{"type":"rule","color":"#808080","strokeWidth":1.5,"strokeDash":[6,5]},"encoding":{"x":{"datum":0.3},"x2":{"datum":47.2},"y":{"datum":20.29}}},
{"mark":{"type":"text","text":"0","fontSize":33},"encoding":{"x":{"datum":-0.88},"y":{"datum":-0.87}}},
{"mark":{"type":"text","text":"14","fontSize":33},"encoding":{"x":{"datum":16},"y":{"datum":-0.87}}},
{"mark":{"type":"text","text":"c","fontSize":38,"fontWeight":"bold","align":"left"},"encoding":{"x":{"datum":1.1},"y":{"datum":-5.37}}},
{"mark":{"type":"text","text":"-log10(","fontSize":37.5,"align":"left"},"encoding":{"x":{"datum":-3.95},"y":{"datum":-2.22}}},
{"mark":{"type":"text","text":"p","fontSize":38,"fontStyle":"italic","align":"left"},"encoding":{"x":{"datum":9.3},"y":{"datum":-2.22}}},
{"mark":{"type":"text","text":"Bonferroni","fontSize":29,"fontStyle":"italic","align":"left"},"encoding":{"x":{"datum":13.1},"y":{"datum":-1.87}}},
{"mark":{"type":"text","text":")","fontSize":38,"align":"left"},"encoding":{"x":{"datum":27.5},"y":{"datum":-2.22}}},
{"mark":{"type":"text","text":"Molecular function","font":"DejaVu Sans","fontSize":37,"fontStyle":"italic","angle":270,"color":"#9673ad"},"encoding":{"x":{"datum":-4.08},"y":{"datum":2.57}}},
{"mark":{"type":"text","text":"Biological process","font":"DejaVu Sans","fontSize":36,"fontStyle":"italic","angle":270,"color":"#e59596"},"encoding":{"x":{"datum":-3.75},"y":{"datum":11.36}}},
{"mark":{"type":"text","text":"Cellular component","font":"DejaVu Sans","fontSize":37,"fontStyle":"italic","angle":270,"color":"#f7c47f"},"encoding":{"x":{"datum":-3.53},"y":{"datum":27.3}}}
]},
{"data":{"name":"terms"},"transform":[{"filter":"datum.block==1"}],"mark":{"type":"text","align":"left","lineBreak":"\n","lineHeight":29.6},"encoding":{"x":{"datum":15.55,"scale":{"domain":[0,14],"range":[1402,1529],"nice":false,"zero":false}},"y":{"field":"t","type":"nominal","sort":null,"scale":{"range":[249,365],"paddingInner":0,"paddingOuter":0}},"text":{"field":"t"}}},
{"data":{"name":"terms"},"transform":[{"filter":"datum.block==2"}],"mark":{"type":"text","align":"left","lineBreak":"\n","lineHeight":29.6},"encoding":{"x":{"datum":15.55,"scale":{"domain":[0,14],"range":[1402,1529],"nice":false,"zero":false}},"y":{"field":"t","type":"nominal","sort":null,"scale":{"range":[381.7,590.9],"paddingInner":0,"paddingOuter":0}},"text":{"field":"t"}}},
{"data":{"name":"terms"},"transform":[{"filter":"datum.block==3"}],"mark":{"type":"text","align":"left","lineBreak":"\n","lineHeight":29.6},"encoding":{"x":{"datum":15.55,"scale":{"domain":[0,14],"range":[1402,1529],"nice":false,"zero":false}},"y":{"field":"t","type":"nominal","sort":null,"scale":{"range":[586,616],"paddingInner":0,"paddingOuter":0}},"text":{"field":"t"}}},
{"data":{"name":"terms"},"transform":[{"filter":"datum.block==4"}],"mark":{"type":"text","align":"left","lineBreak":"\n","lineHeight":29.6},"encoding":{"x":{"datum":15.55,"scale":{"domain":[0,14],"range":[1402,1529],"nice":false,"zero":false}},"y":{"field":"t","type":"nominal","sort":null,"scale":{"range":[648,774],"paddingInner":0,"paddingOuter":0}},"text":{"field":"t"}}},
{"data":{"name":"terms"},"transform":[{"filter":"datum.block==5"}],"mark":{"type":"text","align":"left","lineBreak":"\n","lineHeight":29.6},"encoding":{"x":{"datum":15.55,"scale":{"domain":[0,14],"range":[1402,1529],"nice":false,"zero":false}},"y":{"field":"t","type":"nominal","sort":null,"scale":{"range":[769,799],"paddingInner":0,"paddingOuter":0}},"text":{"field":"t"}}},
{"data":{"name":"terms"},"transform":[{"filter":"datum.block==6"}],"mark":{"type":"text","align":"left","lineBreak":"\n","lineHeight":29.6},"encoding":{"x":{"datum":15.55,"scale":{"domain":[0,14],"range":[1402,1529],"nice":false,"zero":false}},"y":{"field":"t","type":"nominal","sort":null,"scale":{"range":[832.2,1123.8],"paddingInner":0,"paddingOuter":0}},"text":{"field":"t"}}},
{"data":{"name":"terms"},"transform":[{"filter":"datum.block==7"}],"mark":{"type":"text","align":"left","lineBreak":"\n","lineHeight":29.6},"encoding":{"x":{"datum":15.55,"scale":{"domain":[0,14],"range":[1402,1529],"nice":false,"zero":false}},"y":{"field":"t","type":"nominal","sort":null,"scale":{"range":[1165.1,1665.9],"paddingInner":0,"paddingOuter":0}},"text":{"field":"t"}}}
]}
